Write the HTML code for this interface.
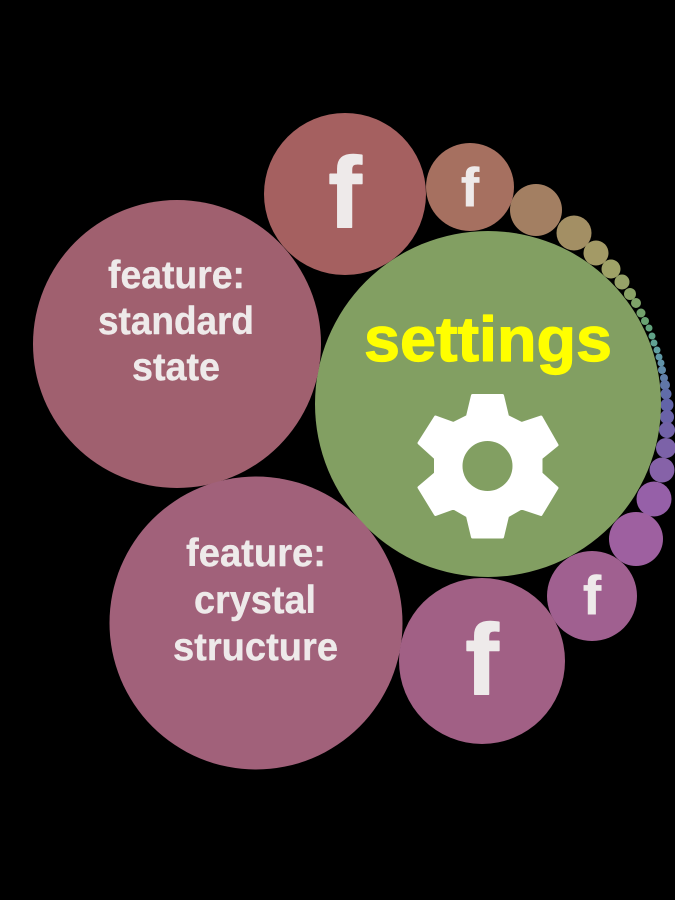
<!DOCTYPE html>
<html>
<head>
<meta charset="utf-8">
<style>
html,body{margin:0;padding:0;background:#000;width:675px;height:900px;overflow:hidden}
svg{display:block}
text{font-family:"Liberation Sans",sans-serif;font-weight:bold;text-anchor:middle;stroke-linejoin:round}
.l{fill:#eeeaea;font-size:39px;stroke:#eeeaea;stroke-width:.4px}
.f{fill:#eeeaea;stroke:#eeeaea}
</style>
</head>
<body>
<svg width="675" height="900" viewBox="0 0 675 900" xmlns="http://www.w3.org/2000/svg">
<rect width="675" height="900" fill="#000"/>
<!-- small chain -->
<g>
<circle cx="536" cy="210" r="26" fill="#a37f62"/>
<circle cx="574" cy="233" r="17.5" fill="#a38f64"/>
<circle cx="596" cy="253" r="12.5" fill="#a39a66"/>
<circle cx="611" cy="269" r="9.5" fill="#9fa267"/>
<circle cx="622" cy="282" r="7.5" fill="#96a268"/>
<circle cx="630" cy="294" r="6" fill="#8aa266"/>
<circle cx="636" cy="303" r="5" fill="#7fa268"/>
<circle cx="641" cy="313" r="4.5" fill="#72a26c"/>
<circle cx="645" cy="321" r="4" fill="#68a272"/>
<circle cx="649" cy="328" r="3.5" fill="#62a27c"/>
<circle cx="652" cy="336" r="3.5" fill="#60a288"/>
<circle cx="654" cy="343" r="3.5" fill="#60a294"/>
<circle cx="657" cy="350" r="3.5" fill="#60a0a0"/>
<circle cx="659" cy="357" r="3.5" fill="#6099a6"/>
<circle cx="661" cy="363" r="3.5" fill="#6092a8"/>
<circle cx="662" cy="370" r="4" fill="#608aa8"/>
<circle cx="664" cy="378" r="4" fill="#607fa8"/>
<circle cx="665" cy="385" r="5" fill="#6076a8"/>
<circle cx="666" cy="394" r="5.5" fill="#606ca8"/>
<circle cx="667" cy="405" r="6.5" fill="#6264a8"/>
<circle cx="667" cy="417" r="7" fill="#6a62a8"/>
<circle cx="667" cy="430" r="8" fill="#7262a8"/>
<circle cx="666" cy="448" r="10" fill="#7c62a8"/>
<circle cx="662" cy="470" r="12.5" fill="#8662a8"/>
<circle cx="654" cy="499" r="17.5" fill="#9660a8"/>
<circle cx="636" cy="539" r="27" fill="#9e60a0"/>
</g>
<!-- large circles -->
<circle cx="488" cy="404" r="173" fill="#829f62"/>
<circle cx="177" cy="344" r="144" fill="#a0606f"/>
<circle cx="256" cy="623" r="146.5" fill="#a1617a"/>
<circle cx="345" cy="194" r="81" fill="#a56060"/>
<circle cx="470" cy="187" r="44" fill="#a67060"/>
<circle cx="592" cy="596" r="45" fill="#a06090"/>
<circle cx="482" cy="661" r="83" fill="#a16085"/>

<!-- labels -->
<text x="488" y="361" fill="#ffff00" stroke="#ffff00" stroke-width="1.200" font-size="63" textLength="248" lengthAdjust="spacingAndGlyphs">settings</text>

<text class="l" x="176.500" y="288" textLength="137" lengthAdjust="spacingAndGlyphs">feature:</text>
<text class="l" x="176" y="334" textLength="156" lengthAdjust="spacingAndGlyphs">standard</text>
<text class="l" x="176" y="380" textLength="88" lengthAdjust="spacingAndGlyphs">state</text>

<text class="l" x="256" y="566" textLength="140" lengthAdjust="spacingAndGlyphs">feature:</text>
<text class="l" x="255" y="613" textLength="122" lengthAdjust="spacingAndGlyphs">crystal</text>
<text class="l" x="255.500" y="660" textLength="165" lengthAdjust="spacingAndGlyphs">structure</text>

<!-- f icons -->
<text class="f" x="345" y="227" font-size="100" stroke-width="1.500">f</text>
<text class="f" x="470" y="206" font-size="55" stroke-width=".5">f</text>
<text class="f" x="592" y="614" font-size="55" stroke-width=".5">f</text>
<text class="f" x="482" y="694" font-size="100" stroke-width="1.500">f</text>

<!-- gear -->
<path fill="#ffffff" stroke="#ffffff" stroke-width="3" stroke-linejoin="round" fill-rule="evenodd" d="M472.500 395.500L502.500 395.500L507.500 416.500L521.500 423.500L541 417L557 445L541 458L541 473.500L557 488L541 514.500L521.500 508L507.500 516L502.500 537L472.500 537L467.500 516L453.500 508L435.500 514.500L419 487.500L435.500 473.500L435.500 458L419 443L435.500 417L453.500 423.500L467.500 416.500Z"/>
<circle cx="487.500" cy="466" r="25" fill="#829f62"/>
</svg>
</body>
</html>
